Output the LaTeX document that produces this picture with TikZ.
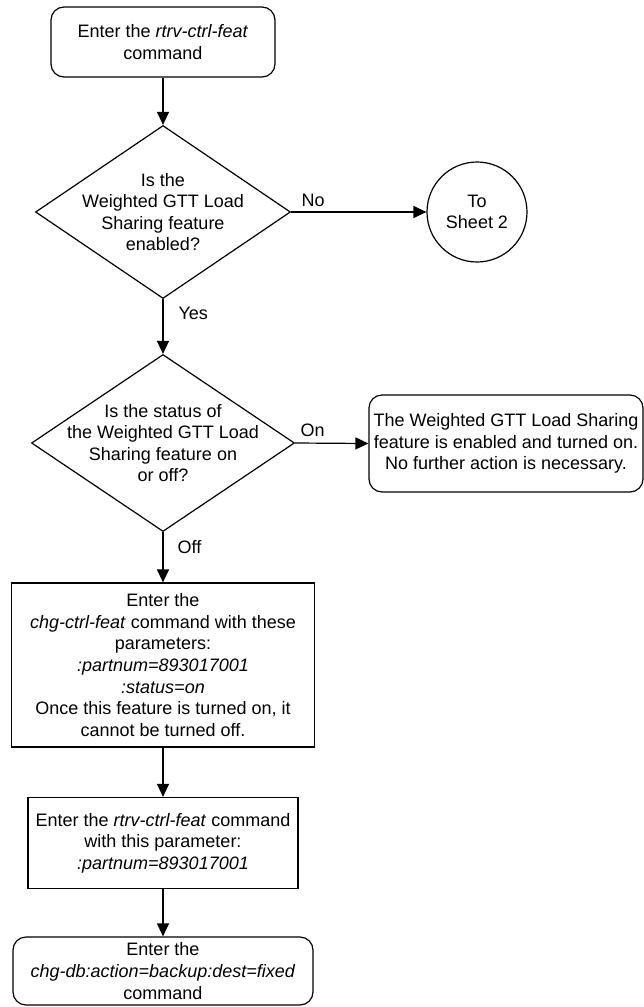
\documentclass[tikz,border=0pt]{standalone}
\usepackage{fontspec}
\setmainfont{Liberation Sans}
\usepackage{tikz}
\usetikzlibrary{arrows.meta, shapes.geometric}

\begin{document}
\begin{tikzpicture}[
  x=1pt, y=-1pt,
  every node/.style={font=\fontsize{18}{21.6}\selectfont, align=center,
                     inner sep=4pt},
  terminal/.style={draw, line width=1.2pt, rounded corners=13pt,
                   inner sep=0pt},
  process/.style={draw, line width=1.2pt, inner sep=0pt},
  decision/.style={draw, line width=1.2pt, shape=diamond,
                   inner sep=-40pt},
  connector/.style={draw, line width=1.2pt, shape=circle,
                    minimum size=100pt, inner sep=0pt},
  arrow/.style={-{Triangle[length=13pt, width=12pt]}, line width=1.2pt},
  answer/.style={font=\fontsize{18}{21.6}\selectfont, inner sep=4pt},
]
\useasboundingbox (0,0) rectangle (644,1007);

% --- Main column --------------------------------------------------
\node[terminal, minimum width=224pt, minimum height=70pt]
  (start) at (163, 42)
  {Enter the \textit{rtrv-ctrl-feat}\\command};

\node[decision, minimum width=255pt, minimum height=173pt]
  (enabled) at (163, 212)
  {Is the\\Weighted GTT Load\\Sharing feature\\enabled?};

\node[decision, minimum width=263pt, minimum height=177pt]
  (status) at (163, 443)
  {Is the status of\\the Weighted GTT Load\\Sharing feature on\\or off?};

\node[process, minimum width=303pt, minimum height=164pt]
  (chgfeat) at (163, 665)
  {Enter the\\\textit{chg-ctrl-feat} command with these\\parameters:\\
   \textit{:partnum=893017001}\\\textit{:status=on}\\
   Once this feature is turned on, it\\cannot be turned off.};

\node[process, minimum width=270pt, minimum height=91pt]
  (rtrvfeat) at (163, 843)
  {Enter the \textit{rtrv-ctrl-feat} command\\with this parameter:\\
   \textit{:partnum=893017001}};

\node[terminal, minimum width=300pt, minimum height=68pt]
  (backup) at (163, 971)
  {Enter the\\\textit{chg-db:action=backup:dest=fixed}\\command};

% --- Side branches -------------------------------------------------
\node[connector] (sheet2) at (477, 212) {To\\Sheet 2};

\node[terminal, minimum width=274pt, minimum height=97pt]
  (done) at (506, 443.5)
  {The Weighted GTT Load Sharing\\feature is enabled and turned on.\\
   No further action is necessary.};

% --- Connectors ----------------------------------------------------
\draw[arrow] (start.south) -- (enabled.north);
\draw[arrow] (enabled.south) -- (status.north)
  node[answer, pos=0, anchor=north west, xshift=11pt, yshift=-3pt]
  (yes) {Yes};
\draw[arrow] (enabled.east) -- (sheet2.west)
  node[answer, pos=0, anchor=south west, xshift=6pt, yshift=1pt]
  (no) {No};
\draw[arrow] (status.east) -- (done.west)
  node[answer, pos=0, anchor=south west, xshift=1pt, yshift=1.5pt]
  (on) {On};
\draw[arrow] (status.south) -- (chgfeat.north)
  node[answer, pos=0, anchor=north west, xshift=10pt, yshift=-3.5pt]
  (off) {Off};
\draw[arrow] (chgfeat.south) -- (rtrvfeat.north);
\draw[arrow] (rtrvfeat.south) -- (backup.north);
\end{tikzpicture}
\end{document}
